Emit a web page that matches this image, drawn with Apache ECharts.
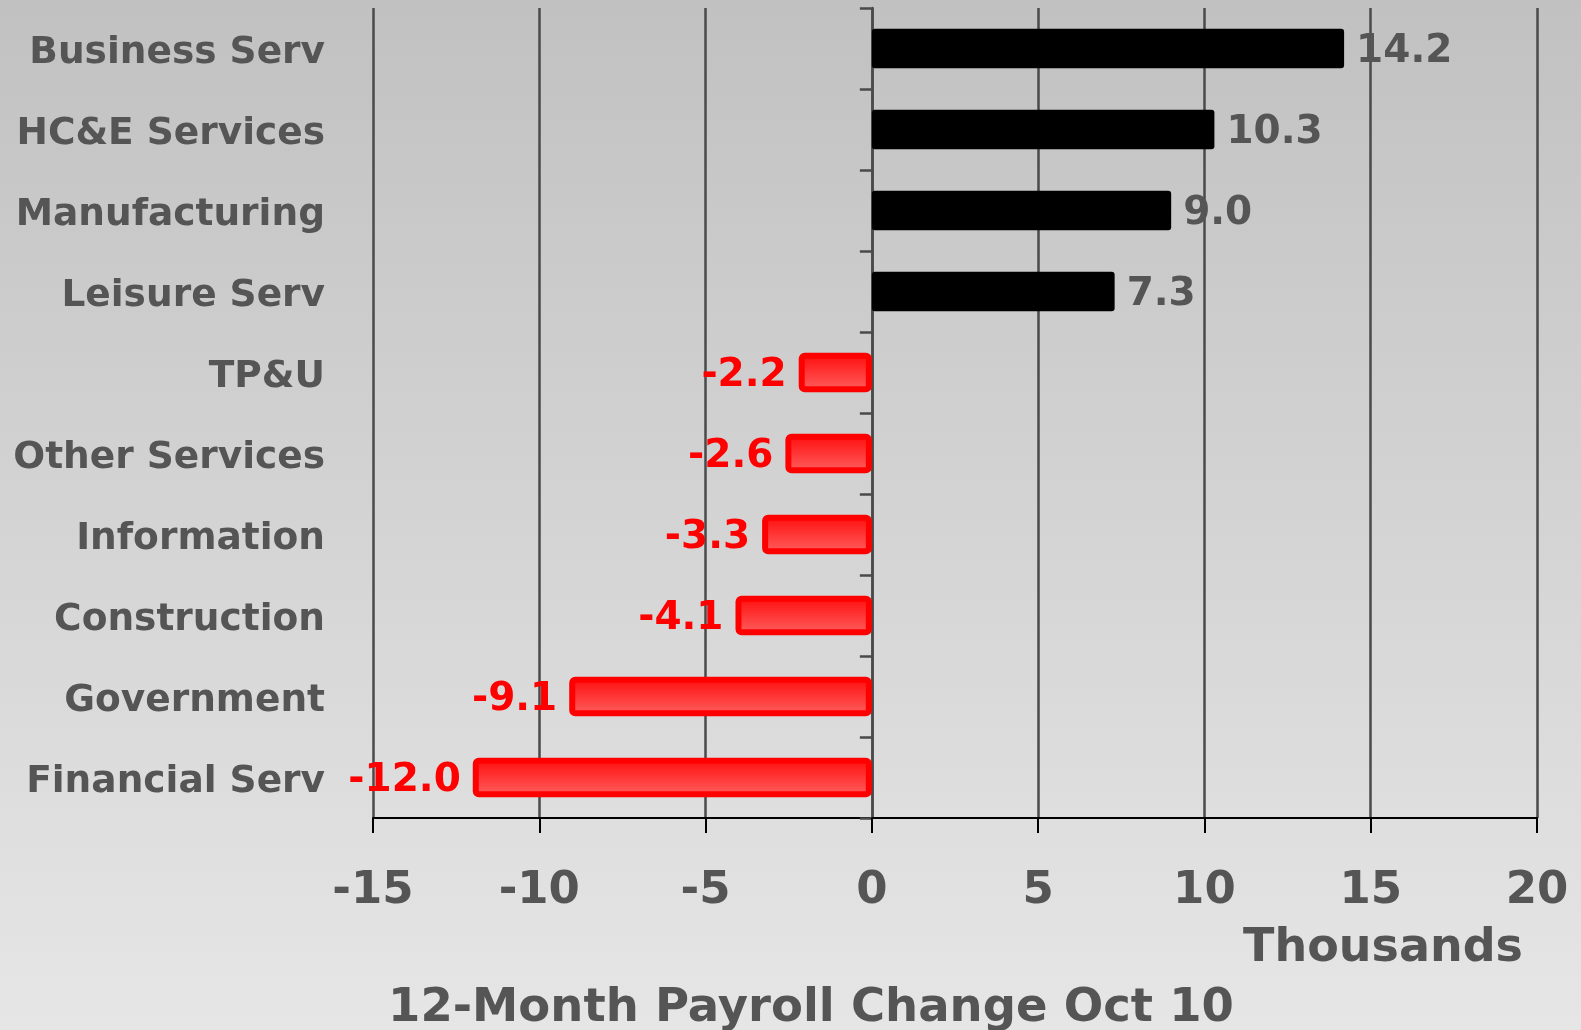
<!DOCTYPE html>
<html>
<head>
<meta charset="utf-8">
<script src="https://cdn.jsdelivr.net/npm/echarts@6/dist/echarts.min.js"></script>
<style>
  html, body { margin: 0; padding: 0; }
  #chart { width: 1581px; height: 1030px; }
</style>
</head>
<body>
<div id="chart"></div>
<script>
const categories = ["Business Serv", "HC&E Services", "Manufacturing", "Leisure Serv", "TP&U",
  "Other Services", "Information", "Construction", "Government", "Financial Serv"];
const values = [14.2, 10.3, 9.0, 7.3, -2.2, -2.6, -3.3, -4.1, -9.1, -12.0];
const xTicks = [-15, 20, 5]; // min, max, interval

const FONT = "DejaVu Sans";
const GRAY = "#555555";
const LINE = "#4a4a4a";

const chart = echarts.init(document.getElementById("chart"));

// 正负值分别设置颜色和标签位置
const barData = values.map((v) => {
  if (v >= 0) {
    return {
      value: v,
      itemStyle: { color: "#000000", borderRadius: 3 },
      label: { position: "right", color: GRAY },
    };
  }
  return {
    value: v,
    itemStyle: {
      color: new echarts.graphic.LinearGradient(0, 0, 0, 1, [
        { offset: 0, color: "#ff0a0a" },
        { offset: 1, color: "#ff6262" },
      ]),
      borderColor: "#ff0000",
      borderWidth: 6,
      borderRadius: 3,
    },
    label: { position: "left", color: "#ff0000" },
  };
});

const option = {
  backgroundColor: new echarts.graphic.LinearGradient(0, 0, 0, 1, [
    { offset: 0, color: "#c1c1c1" },
    { offset: 1, color: "#e6e6e6" },
  ]),
  animation: false,
  title: [
    {
      text: "Thousands",
      right: 53,
      top: 921,
      textStyle: { fontFamily: FONT, fontSize: 46, fontWeight: "bold", color: GRAY },
    },
    {
      text: "12-Month Payroll Change Oct 10",
      left: 806,
      textAlign: "center",
      top: 980,
      textStyle: { fontFamily: FONT, fontSize: 46.5, fontWeight: "bold", color: GRAY },
    },
  ],
  grid: { left: 373, right: 44, top: 8, bottom: 212 },
  xAxis: {
    type: "value",
    min: xTicks[0],
    max: xTicks[1],
    interval: xTicks[2],
    axisLine: { show: true, onZero: false, lineStyle: { color: "#000", width: 2 } },
    axisTick: { show: true, length: 15, lineStyle: { color: "#000", width: 2 } },
    axisLabel: {
      margin: 51,
      fontFamily: FONT,
      fontSize: 45,
      fontWeight: "bold",
      color: GRAY,
    },
    splitLine: { show: true, lineStyle: { color: LINE, width: 2.5 } },
  },
  yAxis: [
    {
      type: "category",
      data: categories,
      inverse: true,
      position: "left",
      axisLine: { show: false, onZero: false },
      axisTick: { show: false },
      axisLabel: {
        margin: 48,
        formatter: (v) => "{c|" + v + "}",
        rich: {
          c: {
            padding: [9, 0, 0, 0],
            fontFamily: FONT,
            fontSize: 37.5,
            fontWeight: "bold",
            color: GRAY,
          },
        },
      },
    },
    {
      // 零轴处的纵轴线和刻度
      type: "category",
      data: categories,
      inverse: true,
      position: "left",
      axisLine: { show: true, onZero: true, lineStyle: { color: LINE, width: 2.5 } },
      axisTick: { show: true, length: 12, lineStyle: { color: LINE, width: 2.5 } },
      axisLabel: { show: false },
    },
  ],
  series: [
    {
      type: "bar",
      yAxisIndex: 0,
      data: barData,
      barCategoryGap: "51%",
      label: {
        show: true,
        distance: 12,
        offset: [0, 3],
        fontFamily: FONT,
        fontSize: 39,
        fontWeight: "bold",
        formatter: (p) => p.value.toFixed(1),
      },
    },
  ],
};

chart.setOption(option);
</script>
</body>
</html>
